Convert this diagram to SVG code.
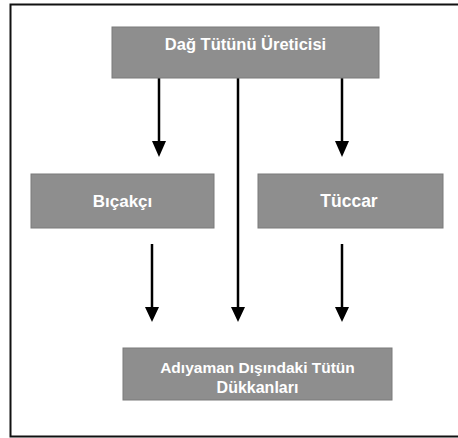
<svg xmlns="http://www.w3.org/2000/svg" width="458" height="438" viewBox="0 0 458 438">
<style>
.box{fill:#8e8e8e;stroke:#7a7a7a;stroke-width:1}
.lbl{font-family:"Liberation Sans",Arial,sans-serif;font-weight:bold;fill:#ffffff;text-anchor:middle}
.edge{stroke:#000;stroke-width:2.5;fill:none}
.head{fill:#000}
</style>
<rect x="0" y="0" width="458" height="438" fill="#ffffff"/>
<rect x="10.5" y="4.5" width="460" height="432" fill="none" stroke="#111" stroke-width="2"/>
<g id="connectors">
<line class="edge" x1="159" y1="78" x2="159" y2="143"/>
<polygon class="head" points="152,141 166,141 159,157"/>
<line class="edge" x1="342" y1="78" x2="342" y2="143"/>
<polygon class="head" points="335,141 349,141 342,157"/>
<line class="edge" x1="238" y1="78" x2="238" y2="309"/>
<polygon class="head" points="231,307 245,307 238,322"/>
<line class="edge" x1="152" y1="244" x2="152" y2="309"/>
<polygon class="head" points="145,307 159,307 152,322"/>
<line class="edge" x1="342" y1="244" x2="342" y2="309"/>
<polygon class="head" points="335,307 349,307 342,322"/>
</g>
<g id="node-producer">
<rect class="box" x="112" y="27" width="267" height="51"/>
<text class="lbl" x="245.5" y="50" font-size="16.5">Dağ Tütünü Üreticisi</text>
</g>
<g id="node-bicakci">
<rect class="box" x="31" y="174" width="183" height="54"/>
<text class="lbl" x="122.5" y="207" font-size="17">Bıçakçı</text>
</g>
<g id="node-tuccar">
<rect class="box" x="258" y="174" width="185" height="54"/>
<text class="lbl" x="349" y="207" font-size="17.5">Tüccar</text>
</g>
<g id="node-shops">
<rect class="box" x="123" y="348" width="269" height="52"/>
<text class="lbl" x="257.5" y="373" font-size="15.5">Adıyaman Dışındaki Tütün</text>
<text class="lbl" x="257.5" y="393" font-size="16">Dükkanları</text>
</g>
</svg>
